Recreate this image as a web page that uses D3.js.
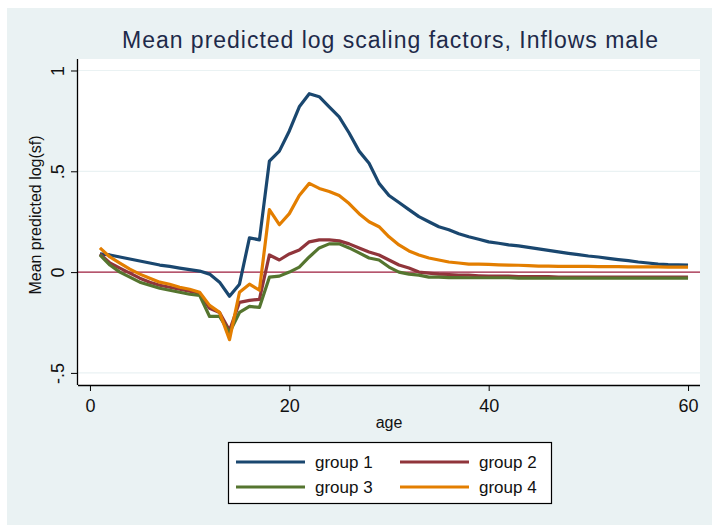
<!DOCTYPE html>
<html>
<head>
  <title>Mean predicted log scaling factors</title>
  <script src="https://d3js.org/d3.v7.min.js"></script>
  <style>
    body { margin: 0; background: #fff; }
    text { font-family: "Liberation Sans", Arial, sans-serif; }
  </style>
</head>
<body>
  <div id="chart"></div>
  <script>
    // ages 1..60
    const ages = d3.range(1, 61);

    const group1 = [0.09, 0.085, 0.075, 0.065, 0.055, 0.045, 0.035, 0.028, 0.02, 0.012,
      0.005, -0.01, -0.05, -0.12, -0.06, 0.17, 0.16, 0.55, 0.60, 0.70,
      0.82, 0.885, 0.87, 0.82, 0.77, 0.69, 0.60, 0.54, 0.44, 0.38,
      0.345, 0.31, 0.275, 0.25, 0.225, 0.21, 0.19, 0.175, 0.163, 0.15,
      0.143, 0.135, 0.13, 0.123, 0.115, 0.108, 0.1, 0.093, 0.087, 0.08,
      0.075, 0.068, 0.062, 0.057, 0.05, 0.045, 0.04, 0.037, 0.036, 0.035];
    const group2 = [0.09, 0.045, 0.02, -0.005, -0.03, -0.05, -0.065, -0.075, -0.085, -0.095,
      -0.105, -0.18, -0.2, -0.29, -0.15, -0.14, -0.135, 0.085, 0.06, 0.09,
      0.11, 0.15, 0.16, 0.16, 0.155, 0.14, 0.12, 0.1, 0.085, 0.06,
      0.035, 0.02, 0.0, -0.005, -0.01, -0.012, -0.015, -0.015, -0.018, -0.02,
      -0.02, -0.02, -0.022, -0.022, -0.022, -0.022, -0.025, -0.025, -0.025, -0.025,
      -0.025, -0.025, -0.025, -0.025, -0.025, -0.025, -0.025, -0.025, -0.025, -0.025];
    const group3 = [0.085, 0.035, 0.0, -0.025, -0.05, -0.065, -0.08, -0.09, -0.1, -0.11,
      -0.115, -0.22, -0.22, -0.3, -0.2, -0.17, -0.175, -0.025, -0.02, 0.0,
      0.025, 0.075, 0.12, 0.14, 0.14, 0.12, 0.095, 0.07, 0.06, 0.025,
      0.0, -0.01, -0.015, -0.025, -0.025, -0.027, -0.027, -0.028, -0.028, -0.028,
      -0.028, -0.028, -0.03, -0.03, -0.03, -0.03, -0.03, -0.03, -0.03, -0.03,
      -0.03, -0.03, -0.03, -0.03, -0.03, -0.03, -0.03, -0.03, -0.03, -0.03];
    const group4 = [0.12, 0.075, 0.045, 0.015, -0.01, -0.03, -0.05, -0.06, -0.075, -0.085,
      -0.1, -0.165, -0.2, -0.335, -0.1, -0.06, -0.09, 0.31, 0.235, 0.29,
      0.38, 0.44, 0.415, 0.40, 0.38, 0.34, 0.29, 0.25, 0.225, 0.175,
      0.135, 0.105, 0.085, 0.07, 0.06, 0.05, 0.045, 0.04, 0.04, 0.038,
      0.036, 0.035, 0.034, 0.032, 0.03, 0.03, 0.028, 0.028, 0.028, 0.028,
      0.027, 0.027, 0.027, 0.026, 0.026, 0.026, 0.026, 0.025, 0.025, 0.025];

    const seriesNames = ["group 1", "group 2", "group 3", "group 4"];
    const seriesValues = [group1, group2, group3, group4];
    const colors = ["#1a476f", "#90353b", "#55752f", "#e37e00"];

    const xTicks = [0, 20, 40, 60];
    const yTicks = [-0.5, 0, 0.5, 1];
    const yTickLabels = ["-.5", "0", ".5", "1"];

    const W = 720, H = 530;
    const plot = { left: 78, right: 700, top: 59, bottom: 385 };

    const svg = d3.select("#chart").append("svg").attr("width", W).attr("height", H);

    // graph region background
    svg.append("rect").attr("x", 7).attr("y", 8).attr("width", 705).attr("height", 517)
      .attr("fill", "#eaf2f3");
    svg.append("rect").attr("x", plot.left).attr("y", plot.top)
      .attr("width", plot.right - plot.left).attr("height", plot.bottom - plot.top)
      .attr("fill", "#fff");

    const x = d3.scaleLinear().domain([-1.2, 61.2]).range([plot.left, plot.right]);
    const y = d3.scaleLinear().domain([-0.56, 1.057]).range([plot.bottom, plot.top]);

    // grid lines
    svg.append("g").selectAll("line").data(yTicks.filter(d => d !== 0)).join("line")
      .attr("x1", plot.left).attr("x2", plot.right)
      .attr("y1", d => y(d)).attr("y2", d => y(d))
      .attr("stroke", "#eaf2f3").attr("stroke-width", 1.2);

    // reference line at 0
    svg.append("line").attr("x1", plot.left).attr("x2", plot.right)
      .attr("y1", y(0)).attr("y2", y(0))
      .attr("stroke", "#9c1d3c").attr("stroke-width", 1.2);

    // series
    const line = d3.line().x((d, i) => x(ages[i])).y(d => y(d));
    svg.append("g").selectAll("path").data(seriesValues).join("path")
      .attr("d", line)
      .attr("fill", "none")
      .attr("stroke", (d, i) => colors[i])
      .attr("stroke-width", 3.2)
      .attr("stroke-linejoin", "round");

    // axes
    const xAxis = d3.axisBottom(x).tickValues(xTicks).tickSize(6).tickPadding(8);
    const gx = svg.append("g").attr("transform", `translate(0,${plot.bottom})`).call(xAxis);
    gx.select(".domain").attr("d", `M${plot.left},0.5H${plot.right}`).attr("stroke", "#000").attr("stroke-width", 1.3);
    gx.selectAll("text").attr("font-size", 18).attr("fill", "#111")
      .attr("font-family", "'Liberation Sans', Arial, sans-serif");

    const yAxis = d3.axisLeft(y).tickValues(yTicks).tickSize(7)
      .tickFormat((d, i) => yTickLabels[i]);
    const gy = svg.append("g").attr("transform", `translate(${plot.left},0)`).call(yAxis);
    gy.select(".domain").attr("d", `M-0.5,${plot.top}V${plot.bottom}`).attr("stroke", "#000").attr("stroke-width", 1.3);
    gy.selectAll(".tick text")
      .attr("font-size", 18).attr("fill", "#111")
      .attr("font-family", "'Liberation Sans', Arial, sans-serif")
      .attr("text-anchor", "middle")
      .attr("x", 0).attr("y", 0).attr("dy", null)
      .attr("transform", "translate(-14,0) rotate(-90)");

    // titles
    svg.append("text").attr("x", 390).attr("y", 48).attr("text-anchor", "middle")
      .attr("font-size", 23).attr("fill", "#1e2a4a")
      .attr("textLength", 536).attr("lengthAdjust", "spacing")
      .text("Mean predicted log scaling factors, Inflows male");
    svg.append("text").attr("x", 389).attr("y", 428).attr("text-anchor", "middle")
      .attr("font-size", 16).attr("fill", "#111").text("age");
    svg.append("text").attr("transform", "translate(41,215) rotate(-90)")
      .attr("text-anchor", "middle").attr("font-size", 16).attr("fill", "#111")
      .text("Mean predicted log(sf)");

    // legend
    const lg = svg.append("g");
    lg.append("rect").attr("x", 228.5).attr("y", 442.5).attr("width", 323).attr("height", 61)
      .attr("fill", "#fff").attr("stroke", "#000").attr("stroke-width", 1.2);
    const items = lg.selectAll("g").data(seriesNames).join("g")
      .attr("transform", (d, i) => `translate(${i % 2 === 0 ? 236 : 400},${i < 2 ? 462 : 487})`);
    items.append("line").attr("x1", 0).attr("x2", 69).attr("y1", 0).attr("y2", 0)
      .attr("stroke", (d, i) => colors[i]).attr("stroke-width", 3.2);
    items.append("text").attr("x", 79).attr("y", 6).attr("font-size", 17).attr("fill", "#111")
      .text(d => d);
  </script>
</body>
</html>
